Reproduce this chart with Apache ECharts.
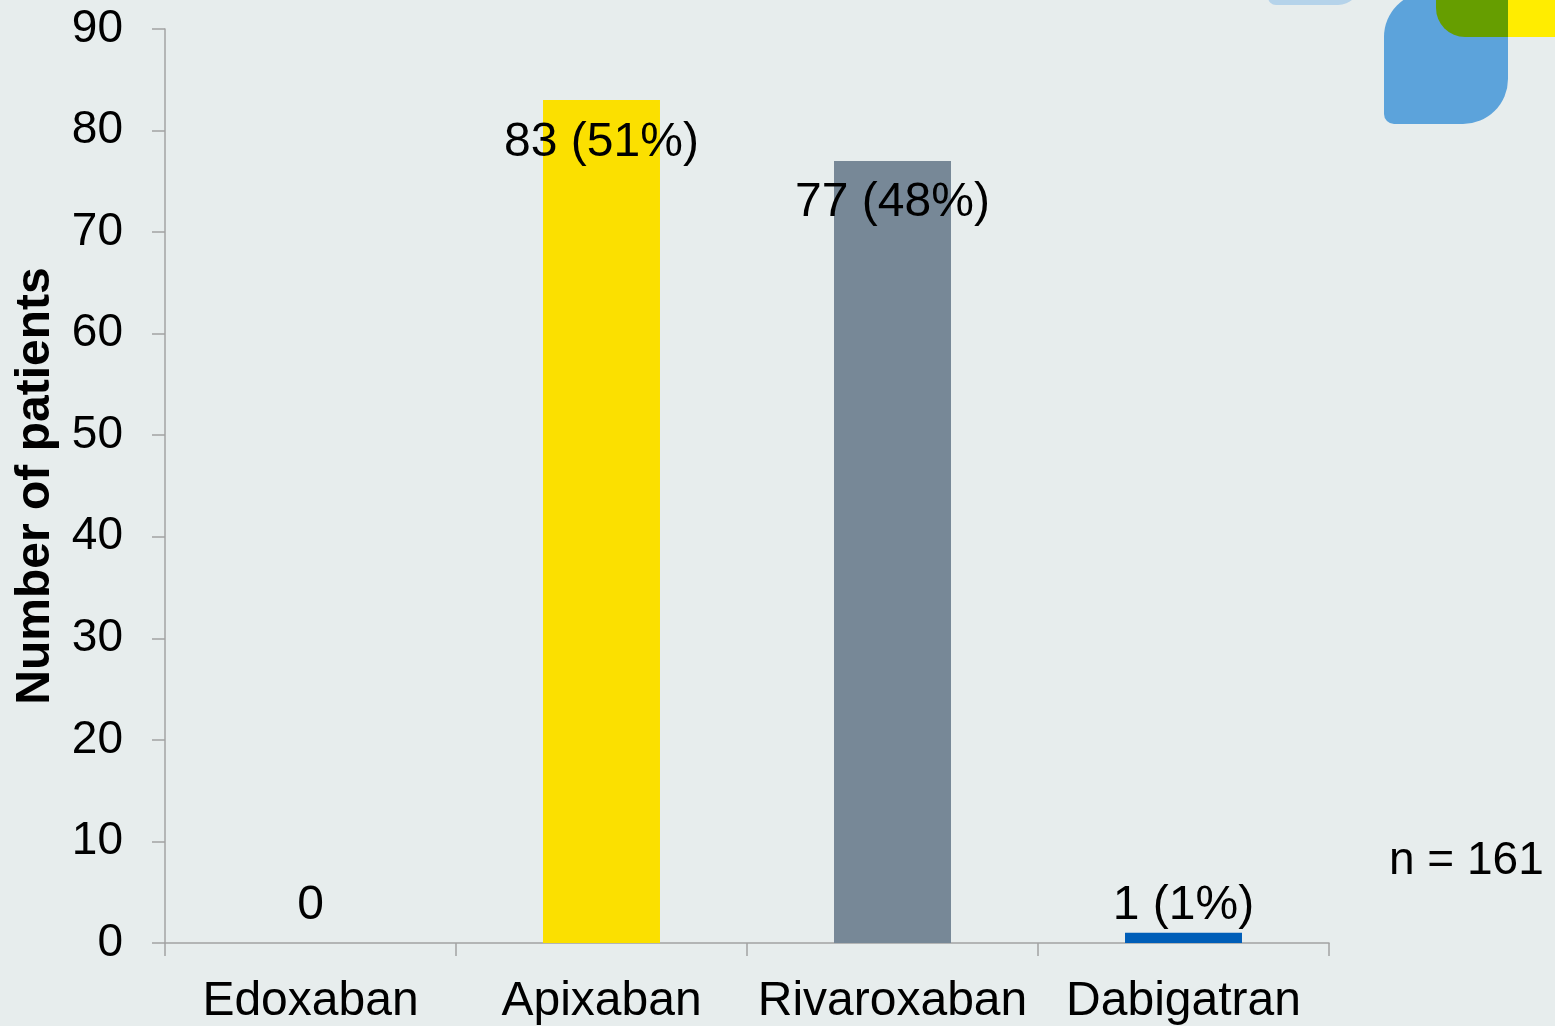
<!DOCTYPE html>
<html>
<head>
<meta charset="utf-8">
<script src="https://cdn.jsdelivr.net/npm/echarts@6/dist/echarts.min.js"></script>
<style>
html,body{margin:0;padding:0;background:#E7EDED;}
#chart{width:1555px;height:1026px;}
</style>
</head>
<body>
<div id="chart"></div>
<script>
const categories = ['Edoxaban', 'Apixaban', 'Rivaroxaban', 'Dabigatran'];
const patientCounts = [0, 83, 77, 1];
const patientPercents = [null, 51, 48, 1];
const yTicks = [0, 10, 20, 30, 40, 50, 60, 70, 80, 90];
const totalLabel = 'n = 161';
const yAxisTitle = 'Number of patients';

const barColors = ['#FBE000', '#FBE000', '#778897', '#005EB8'];
const labelPlacement = [
  { position: 'top', distance: 13 },
  { position: 'insideTop', distance: 19 },
  { position: 'insideTop', distance: 18 },
  { position: 'top', distance: 3 }
];
const FONT = '"Liberation Sans", Arial, sans-serif';

const chart = echarts.init(document.getElementById('chart'));
chart.setOption({
  backgroundColor: '#E7EDED',
  animation: false,
  grid: { left: 165, right: 226, top: 29, bottom: 83, containLabel: false },
  xAxis: {
    type: 'category',
    data: categories,
    axisLine: { show: true, lineStyle: { color: '#A3A3A3', width: 1.5 } },
    axisTick: { show: true, length: 13, lineStyle: { color: '#A3A3A3', width: 1.5 } },
    axisLabel: { color: '#000', fontSize: 48, fontFamily: FONT, margin: 35, lineHeight: 48, interval: 0 },
    splitLine: { show: false }
  },
  yAxis: {
    type: 'value',
    min: yTicks[0],
    max: yTicks[yTicks.length - 1],
    interval: yTicks[1] - yTicks[0],
    name: yAxisTitle,
    nameLocation: 'middle',
    nameGap: 105,
    nameTextStyle: { color: '#000', fontSize: 48, fontWeight: 'bold', fontFamily: FONT, lineHeight: 48 },
    axisLine: { show: true, lineStyle: { color: '#A3A3A3', width: 1.5 } },
    axisTick: { show: true, length: 13, lineStyle: { color: '#A3A3A3', width: 1.5 } },
    axisLabel: { color: '#000', fontSize: 46, fontFamily: FONT, margin: 42 },
    splitLine: { show: false }
  },
  series: [{
    type: 'bar',
    barWidth: '40.2%',
    data: patientCounts.map((v, i) => ({
      value: v,
      itemStyle: { color: barColors[i] },
      label: {
        show: true,
        position: labelPlacement[i].position,
        distance: labelPlacement[i].distance,
        color: '#000',
        fontSize: 48,
        lineHeight: 48,
        fontFamily: FONT,
        formatter: () => patientPercents[i] == null ? String(v) : v + ' (' + patientPercents[i] + '%)'
      }
    }))
  }],
  graphic: [
    { type: 'rect', shape: { x: 1268, y: -20, width: 92, height: 25, r: [0, 0, 22, 8] }, style: { fill: '#B5D3EA' }, silent: true },
    { type: 'rect', shape: { x: 1384, y: -8, width: 124, height: 132, r: [45, 0, 45, 10] }, style: { fill: '#5CA3DB' }, silent: true },
    { type: 'rect', shape: { x: 1436, y: -20, width: 72, height: 57, r: [0, 0, 0, 29] }, style: { fill: '#669E00' }, silent: true },
    { type: 'rect', shape: { x: 1508, y: -20, width: 47, height: 57 }, style: { fill: '#FFED00' }, silent: true },
    { type: 'text', left: 1389, top: 838, style: { text: totalLabel, fill: '#000', font: '46px ' + FONT } }
  ]
});
</script>
</body>
</html>
